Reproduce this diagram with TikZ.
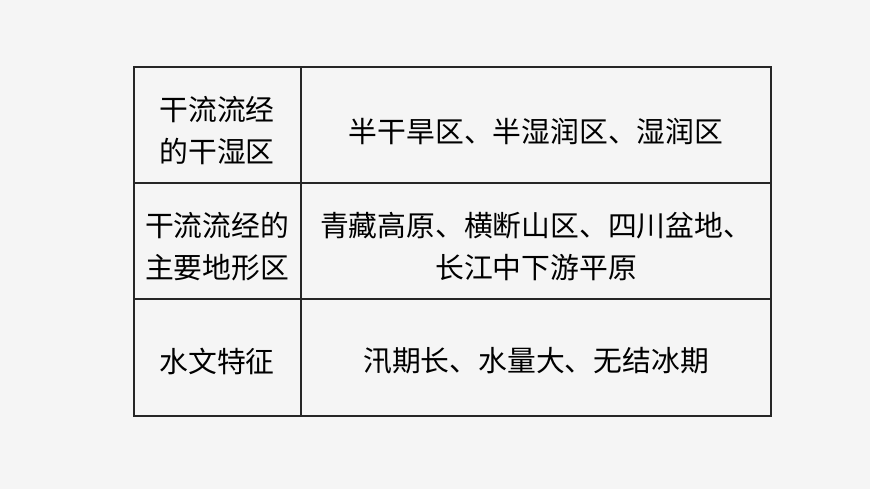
\documentclass[tikz,border=0pt]{standalone}
\usepackage{fontspec}
\setmainfont{Noto Sans CJK SC}
\usetikzlibrary{positioning}

\begin{document}
\begin{tikzpicture}[
    x=1pt, y=-1pt,
    cell/.style={align=center, font=\fontsize{28.8}{42}\selectfont, inner sep=0pt},
    grid/.style={draw=black!85, line width=1.1pt}
]
    \fill[black!4] (0,0) rectangle (870,489);
    \useasboundingbox (0,0) rectangle (870,489);

    \draw[grid] (134,67) rectangle (771,416);
    \draw[grid] (301,67) -- (301,416);
    \draw[grid] (134,183) -- (771,183);
    \draw[grid] (134,299) -- (771,299);

    \node[cell] (wetkey) at (217,131) {干流流经\\的干湿区};
    \node[cell] (wetval) at (536,132) {半干旱区、半湿润区、湿润区};
    \node[cell] (landkey) at (217,247) {干流流经的\\主要地形区};
    \node[cell] (landval) at (536,247) {青藏高原、横断山区、四川盆地、\\长江中下游平原};
    \node[cell] (waterkey) at (217,361) {水文特征};
    \node[cell] (waterval) at (536,361) {汛期长、水量大、无结冰期};
\end{tikzpicture}
\end{document}
